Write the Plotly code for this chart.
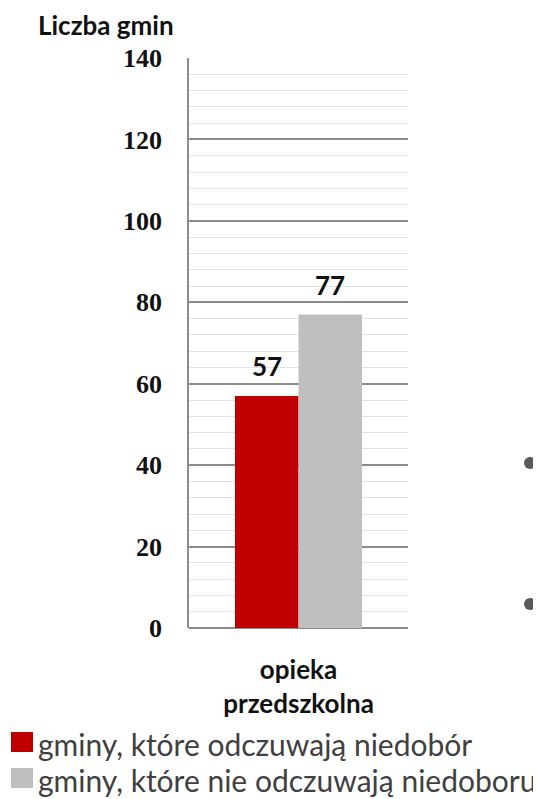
import plotly.graph_objects as go

# chart data
category = ['opieka<br>przedszkolna']
series_names = ['gminy, które odczuwają niedobór', 'gminy, które nie odczuwają niedoboru']
series_values = [[57], [77]]
series_colors = ['#C00000', '#BFBFBF']
y_ticks = [0, 20, 40, 60, 80, 100, 120, 140]

# the page body adds an 8px margin, so the figure is a bit smaller than the window
PAD = 8
FW, FH = 541 - PAD, 799 - PAD
X0, X1, Y0, Y1 = 189, 408, 58, 628   # plot box in window pixels
plot_w = X1 - X0
plot_h = Y1 - Y0
bargap = 0.42
bar_w = plot_w * (1 - bargap) / len(series_values)


def px(x):
    return (x - X0) / plot_w


def py(y):
    return (Y1 - y) / plot_h


fig = go.Figure()
for name, vals, col in zip(series_names, series_values, series_colors):
    fig.add_trace(go.Bar(x=category, y=vals, name=name, showlegend=False,
                         marker=dict(color=col, line=dict(width=0))))

# value labels above bars
for i, vals in enumerate(series_values):
    offset = (i - (len(series_values) - 1) / 2) * bar_w
    for cat, v in zip(category, vals):
        fig.add_annotation(x=cat, y=v, text='<b>%d</b>' % v, showarrow=False,
                           xshift=offset, yanchor='bottom', yshift=12,
                           font=dict(family='Lato', size=26, color='#111111'))

# axis title at top-left
fig.add_annotation(xref='paper', yref='paper', x=px(176), y=py(25),
                   xanchor='right', yanchor='middle', text='<b>Liczba gmin</b>', showarrow=False,
                   font=dict(family='Lato', size=26, color='#111111'))

# legend drawn by hand (large square swatches)
for i, (name, col) in enumerate(zip(series_names, series_colors)):
    yc = 742 + i * 36
    fig.add_shape(type='rect', xref='paper', yref='paper', xsizemode='pixel', ysizemode='pixel',
                  xanchor=px(22), yanchor=py(yc), x0=-11, x1=11, y0=-10, y1=10,
                  fillcolor=col, line=dict(width=0))
    fig.add_annotation(xref='paper', yref='paper', x=px(36), y=py(yc + 2), xanchor='left', yanchor='middle',
                       text=name, showarrow=False,
                       font=dict(family='Lato', size=30, color='#404040'))

# slide bullet dots on the right
for yy in [463, 604]:
    fig.add_shape(type='circle', xref='paper', yref='paper', xsizemode='pixel', ysizemode='pixel',
                  xanchor=px(530), yanchor=py(yy),
                  x0=-6, x1=6, y0=-6, y1=6, fillcolor='#595959', line=dict(width=0))

fig.update_layout(
    width=FW, height=FH,
    margin=dict(l=X0 - PAD, r=FW - (X1 - PAD), t=Y0 - PAD, b=FH - (Y1 - PAD), autoexpand=False),
    paper_bgcolor='white', plot_bgcolor='white',
    barmode='group', bargap=bargap, bargroupgap=0,
    showlegend=False,
    xaxis=dict(showgrid=False, showline=False, ticks='', ticklabelstandoff=24,
               tickfont=dict(family='Lato', size=26, color='#111111', weight='bold')),
    yaxis=dict(range=[0, 140], tickvals=y_ticks, showline=True, linecolor='#8C8C8C', linewidth=1.5,
               gridcolor='#8C8C8C', gridwidth=1.5, zeroline=True, zerolinecolor='#8C8C8C', zerolinewidth=1.5,
               ticks='', ticklabelstandoff=20,
               minor=dict(dtick=4, showgrid=True, gridcolor='#E3E3E3', gridwidth=1),
               tickfont=dict(family='Liberation Serif', size=26, color='#111111', weight='bold')),
)

fig.write_html('out.html')
